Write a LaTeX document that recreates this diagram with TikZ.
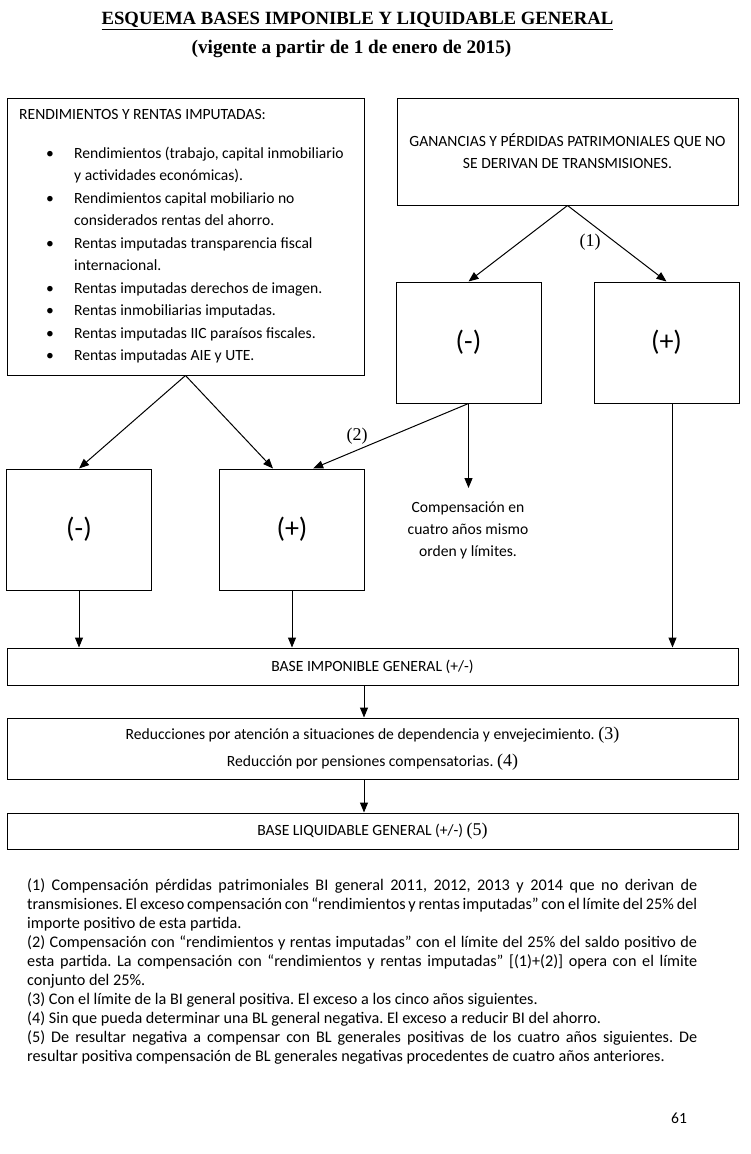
\documentclass[tikz,border=0pt]{standalone}
\usepackage{fontspec}
\setmainfont{Carlito}
\newfontfamily\tnr{Liberation Serif}
\usetikzlibrary{arrows.meta,calc}
\frenchspacing
\newcommand\bodyf{\fontsize{15.6pt}{22pt}\selectfont}
\newcommand\bigf{\fontsize{28pt}{30pt}\selectfont}
\newcommand\numf{\tnr\fontsize{18pt}{20pt}\selectfont}
\newcommand\jl[1]{\makebox[670pt][s]{#1}}
\begin{document}
\begin{tikzpicture}[x=1pt,y=-1pt,
  box/.style={draw, line width=1pt, inner sep=0pt, align=center, font=\bodyf},
  sq/.style={box, minimum width=145pt, minimum height=121pt, font=\bigf},
  arr/.style={line width=1pt, -{Triangle[length=10pt,width=8pt]}},
  ln/.style={anchor=base west, inner sep=0pt, font=\bodyf},
  bu/.style={anchor=base, inner sep=0pt, font=\bodyf},
  num/.style={inner sep=0pt, font=\numf}]
\fill[white] (0,0) rectangle (750,1154);
\useasboundingbox (0,0) rectangle (750,1154);

% titles
\node[inner sep=0pt, anchor=base, font=\tnr\bfseries\fontsize{18.7pt}{20pt}\selectfont] (title) at (357.5,24.5) {\underline{ESQUEMA BASES IMPONIBLE Y LIQUIDABLE GENERAL}};
\node[inner sep=0pt, anchor=base, font=\tnr\bfseries\fontsize{19.2pt}{20pt}\selectfont] (sub) at (351.5,53.5) {(vigente a partir de 1 de enero de 2015)};

% boxes
\node[box, minimum width=357pt, minimum height=277pt] (rend) at (185.5,236.5) {};
\node[box, minimum width=341pt, minimum height=107pt] (gan) at (567.5,151.5) {GANANCIAS Y PÉRDIDAS PATRIMONIALES QUE NO\\SE DERIVAN DE TRANSMISIONES.};
\node[sq] (gneg) at (468.5,342.5) {(-)};
\node[sq] (gpos) at (666.5,342.5) {(+)};
\node[sq] (rneg) at (79,529.5) {(-)};
\node[sq] (rpos) at (292,529.5) {(+)};
\node[box, minimum width=731pt, minimum height=37pt] (bi) at (372.5,666.5) {BASE IMPONIBLE GENERAL (+/-)};
\node[box, minimum width=731pt, minimum height=61pt, font=\fontsize{15.6pt}{27pt}\selectfont] (red) at (372.5,748.5) {Reducciones por atención a situaciones de dependencia y envejecimiento. {\numf(3)}\\Reducción por pensiones compensatorias. {\numf(4)}};
\node[box, minimum width=731pt, minimum height=36pt] (bl) at (372.5,831) {BASE LIQUIDABLE GENERAL (+/-) {\numf(5)}};

% list in left box
\node[ln] (rh) at (19,119.5) {RENDIMIENTOS Y RENTAS IMPUTADAS:};
\node[bu] (b1) at (50,158) {\textbullet};
\node[ln] (t1) at (74,158) {Rendimientos (trabajo, capital inmobiliario};
\node[ln] (t1b) at (74,180.5) {y actividades económicas).};
\node[bu] (b2) at (50,203) {\textbullet};
\node[ln] (t2) at (74,203) {Rendimientos capital mobiliario no};
\node[ln] (t2b) at (74,225.5) {considerados rentas del ahorro.};
\node[bu] (b3) at (50,248) {\textbullet};
\node[ln] (t3) at (74,248) {Rentas imputadas transparencia fiscal};
\node[ln] (t3b) at (74,270.5) {internacional.};
\node[bu] (b4) at (50,293) {\textbullet};
\node[ln] (t4) at (74,293) {Rentas imputadas derechos de imagen.};
\node[bu] (b5) at (50,315.5) {\textbullet};
\node[ln] (t5) at (74,315.5) {Rentas inmobiliarias imputadas.};
\node[bu] (b6) at (50,338) {\textbullet};
\node[ln] (t6) at (74,338) {Rentas imputadas IIC paraísos fiscales.};
\node[bu] (b7) at (50,360.5) {\textbullet};
\node[ln] (t7) at (74,360.5) {Rentas imputadas AIE y UTE.};

% connectors
\draw[arr] (gan.south) -- (gneg.north);
\draw[arr] (gan.south) -- (gpos.north);
\node[num] (n1) at (590,242) {(1)};
\draw[arr] (rend.south) -- (rneg.north);
\draw[arr] (rend.south) -- ($(rpos.north west)!0.37!(rpos.north east)$);
\draw[arr] (gneg.south) -- ($(rpos.north west)!0.645!(rpos.north east)$);
\node[num] (n2) at (357,436) {(2)};
\coordinate (ce) at (468.5,488);
\draw[arr] (gneg.south) -- (ce);
\node[font=\bodyf, align=center, inner sep=0pt] (comp) at (468,530) {Compensación en\\cuatro años mismo\\orden y límites.};
\draw[arr] (rneg.south) -- (rneg.south |- bi.north);
\draw[arr] (rpos.south) -- (rpos.south |- bi.north);
\coordinate (gp) at ($(gpos.south)+(6,0)$);
\draw[arr] (gp) -- (gp |- bi.north);
\coordinate (bx) at (364,0);
\draw[arr] (bx |- bi.south) -- (bx |- red.north);
\draw[arr] (bx |- red.south) -- (bx |- bl.north);

% notes
\node[anchor=north west, inner sep=0pt, font=\fontsize{16.2pt}{19.1pt}\selectfont] (notes) at (27,878) {\parbox[t]{670pt}{%
\jl{(1) Compensación pérdidas patrimoniales BI general 2011, 2012, 2013 y 2014 que no derivan de}\\
\jl{transmisiones. El exceso compensación con “rendimientos y rentas imputadas” con el límite del 25\% del}\\
importe positivo de esta partida.\\
\jl{(2) Compensación con “rendimientos y rentas imputadas” con el límite del 25\% del saldo positivo de}\\
\jl{esta partida. La compensación con “rendimientos y rentas imputadas” [(1)+(2)] opera con el límite}\\
conjunto del 25\%.\\
(3) Con el límite de la BI general positiva. El exceso a los cinco años siguientes.\\
(4) Sin que pueda determinar una BL general negativa. El exceso a reducir BI del ahorro.\\
\jl{(5) De resultar negativa a compensar con BL generales positivas de los cuatro años siguientes. De}\\
resultar positiva compensación de BL generales negativas procedentes de cuatro años anteriores.}};

\node[ln] (pg) at (671,1123.5) {61};
\end{tikzpicture}
\end{document}
